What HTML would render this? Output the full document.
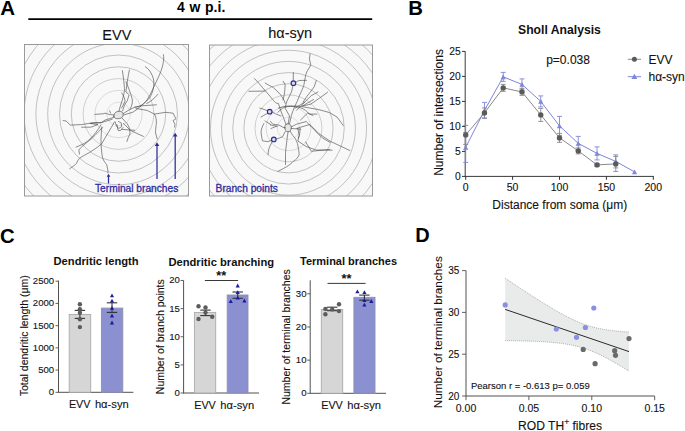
<!DOCTYPE html>
<html><head><meta charset="utf-8"><style>
html,body{margin:0;padding:0;background:#fff;}
body{width:685px;height:431px;overflow:hidden;}
svg{display:block;font-family:"Liberation Sans",sans-serif;}
</style></head><body>
<svg width="685" height="431" viewBox="0 0 685 431" font-family="Liberation Sans">
<rect width="685" height="431" fill="#fff"/>
<text x="0.30" y="15.00" font-size="20.5" font-weight="bold" text-anchor="start" fill="#000" >A</text>
<line x1="28.30" y1="19.20" x2="372.20" y2="19.20" stroke="#000" stroke-width="1.8" />
<text x="177.00" y="11.80" font-size="14" font-weight="bold" text-anchor="start" fill="#000" word-spacing="0.8">4 w p.i.</text>
<text x="102.30" y="39.90" font-size="14.5" font-weight="normal" text-anchor="start" fill="#111"  stroke="#111" stroke-width="0.1">EVV</text>
<text x="268.30" y="37.70" font-size="14.5" font-weight="normal" text-anchor="start" fill="#111"  stroke="#111" stroke-width="0.1">hα-syn</text>
<clipPath id="c1"><rect x="24.5" y="44.5" width="164" height="151.5"/></clipPath>
<rect x="24.5" y="44.5" width="164" height="151.5" fill="#f8f8f8"/>
<g clip-path="url(#c1)" fill="none" stroke="#9c9c9c" stroke-width="0.6">
<circle cx="118.5" cy="114" r="11.80" stroke="#cfcfcf"/>
<circle cx="118.5" cy="114" r="23.60" stroke="#c4c4c4"/>
<circle cx="118.5" cy="114" r="35.40" stroke="#b2b2b2"/>
<circle cx="118.5" cy="114" r="47.20" stroke="#9c9c9c"/>
<circle cx="118.5" cy="114" r="59.00" stroke="#9c9c9c"/>
<circle cx="118.5" cy="114" r="70.80" stroke="#9c9c9c"/>
<circle cx="118.5" cy="114" r="82.60" stroke="#9c9c9c"/>
<circle cx="118.5" cy="114" r="94.40" stroke="#9c9c9c"/>
<circle cx="118.5" cy="114" r="106.20" stroke="#9c9c9c"/>
<circle cx="118.5" cy="114" r="118.00" stroke="#9c9c9c"/>
<circle cx="118.5" cy="114" r="129.80" stroke="#9c9c9c"/>
<circle cx="118.5" cy="114" r="141.60" stroke="#9c9c9c"/>
<circle cx="118.5" cy="114" r="153.40" stroke="#9c9c9c"/>
<circle cx="118.5" cy="114" r="165.20" stroke="#9c9c9c"/>
<circle cx="118.5" cy="114" r="177.00" stroke="#9c9c9c"/>
</g>
<clipPath id="c2"><rect x="209.5" y="45" width="163" height="151"/></clipPath>
<rect x="209.5" y="45" width="163" height="151" fill="#f8f8f8"/>
<g clip-path="url(#c2)" fill="none" stroke="#9c9c9c" stroke-width="0.6">
<circle cx="288.5" cy="128.3" r="11.15" stroke="#cfcfcf"/>
<circle cx="288.5" cy="128.3" r="22.30" stroke="#c4c4c4"/>
<circle cx="288.5" cy="128.3" r="33.45" stroke="#b2b2b2"/>
<circle cx="288.5" cy="128.3" r="44.60" stroke="#9c9c9c"/>
<circle cx="288.5" cy="128.3" r="55.75" stroke="#9c9c9c"/>
<circle cx="288.5" cy="128.3" r="66.90" stroke="#9c9c9c"/>
<circle cx="288.5" cy="128.3" r="78.05" stroke="#9c9c9c"/>
<circle cx="288.5" cy="128.3" r="89.20" stroke="#9c9c9c"/>
<circle cx="288.5" cy="128.3" r="100.35" stroke="#9c9c9c"/>
<circle cx="288.5" cy="128.3" r="111.50" stroke="#9c9c9c"/>
<circle cx="288.5" cy="128.3" r="122.65" stroke="#9c9c9c"/>
<circle cx="288.5" cy="128.3" r="133.80" stroke="#9c9c9c"/>
<circle cx="288.5" cy="128.3" r="144.95" stroke="#9c9c9c"/>
<circle cx="288.5" cy="128.3" r="156.10" stroke="#9c9c9c"/>
<circle cx="288.5" cy="128.3" r="167.25" stroke="#9c9c9c"/>
</g>
<g fill="none" stroke="#484848" stroke-width="0.62" stroke-linecap="round" stroke-linejoin="round"><path d="M113.8,116.5 C113.5,113.5 116,111.3 119,111.2 C122,111 123.6,113 123.1,115.5 C122.6,118 120,118.9 117,118.7 C115,118.5 114,117.8 113.8,116.5 Z" fill="#e6e6e6"/>
<path d="M163.4,54.7 C164.8,60 162,70 158,78 C154,86 151,94 147,100 C144,104 140,107 135,107.1 L129.1,109.9 L123.1,113.6"/>
<path d="M145.3,66.6 C149,69 152.5,74 153.7,80 C154.5,88 152,94 149.5,98 C146,102 141,106 136,110 L132.9,112.2 L123.6,115"/>
<path d="M157.8,94.4 C154,99 150,102 146.7,103.5"/>
<path d="M122.4,70.6 C123.5,78 124.5,86 124.5,90 C124,94 123.6,95 123.6,95 L122.2,100.6 L120.3,106.1 L118.9,111.2"/>
<path d="M129.4,69.9 C128,76 127,84 125.9,91.5 C126.5,93 129,95 129.1,95 L127.3,100.6 L124.5,105.2 L122.6,110.8"/>
<path d="M125.9,81.7 C128,86 130,92 132,98 C133,102 132,106 130,109"/>
<path d="M121.7,92.9 C124,96 125,99 125,101.5 C124,104 122.5,106 121.5,108"/>
<path d="M109.6,110.8 L110.6,113.1"/>
<path d="M114.3,115 L109.2,114.5 L105,113.1 L103.9,113.7 L94.9,114.4"/>
<path d="M113.8,117.3 L105,120.1 L101.1,122.7 L93.8,122.6 L81.6,124.6 L70.3,125.1 L66.2,121.1 L63.2,120.5"/>
<path d="M112.3,119.2 L101.1,122.7 L90,123.4 L97.9,124.6 L90.8,127.2 L81.6,127.2"/>
<path d="M101,124.8 C98,130 94,135 90,139 C87,142 84,144 76,147.1"/>
<path d="M102.5,127.6 C97,133 93,138 88,141.5 C84,145 81,147 78.8,150 L79.5,154.1"/>
<path d="M114.4,122 C110,130 106,136 101.8,143.7 C97,148 93,150 89.2,152.7 C85,155 81,157 79.5,158.3 C78,160 77,162 76.7,163.2 C74,166 72,167 69.7,168.7"/>
<path d="M101.8,127 C101.5,132 101,136 101,140 C101,146 101.5,152 102.5,157.6 C103.5,161 105.5,163 106.6,164.5 C107.5,168 108,170 108,172.9"/>
<path d="M135,107.1 L141.6,105.8 L156.4,104.8"/>
<path d="M136,108.5 L147.1,110.4 L154.5,114.1 C156,117 156.5,120 156.4,123.4 C156,126 155.5,130 155.5,132.7 L157.3,139.2"/>
<path d="M154.5,114.1 L165.7,112.3 L173.1,113.2 L175.9,118.8 L173.1,120.6 L175,124.3 L174.6,127.1"/>
<path d="M122.2,118.2 L127.3,123.8 L129.6,128.4 L130,134 C128.5,137 127.5,139 126.9,141.5"/>
<path d="M123.4,123.4 L130.4,130.4 L143.4,136.4"/>
<path d="M115.2,121.9 L116.6,126.6 L118.9,128.4 L121.7,126.6 L121.2,122.9 L118.5,121.5"/>
<path d="M117,124.7 L118,130.3 L120.3,130.7 L123.1,127.5"/>
<path d="M121.7,129.4 L134.7,130.3"/>
<path d="M284.8,127.5 C284.5,125 286,123.8 288,123.8 C290.3,123.8 291.5,125.5 291.3,128 C291,130.5 289.8,131.8 288,131.8 C286,131.8 285,130 284.8,127.5 Z" fill="#e6e6e6"/>
<path d="M310.1,54 L309.4,58.9 L310.8,65.2 L307.3,70.8 L305.9,74.2 C305,78 304.5,82 303.8,85.4 C302.5,89 301.5,91 301,92.3 C299,96 298,100 296.8,102.1 C295,106 293,110 291.4,115.5 L289.5,123.8"/>
<path d="M293.3,72.5 L293.3,80.5 M293,85.8 C292.5,88 292,90 291.5,92 C290,95 288.5,98 287,101 C286,104 285.5,106 285.3,108.5 L289.5,115.9 L288.1,123.8"/>
<path d="M295.8,82.3 L298.9,80.5 L306.6,80.3"/>
<path d="M254.4,78.5 C258,82 262,87 265,90.4 C268,94 270,96 272,98.7 C274,101 276,104 278.4,103.4 L281.1,111.7 L283.9,118.7 L286,124.5"/>
<path d="M265.2,83.1 C268,85 271,86 273.4,87.6 C276,90 278,92 280.4,94.5 C282,97 284,99 285.3,103.4"/>
<path d="M248.8,91.3 L265,91.1"/>
<path d="M283.2,81.3 L285.2,84.8 C285,88 284.8,90 284.5,93.2 C284,96 283.5,98 283,100"/>
<path d="M316.3,80.5 L314.2,86.8 L310.1,92.3 C307,96 305,99 303.1,102.1"/>
<path d="M327.5,92.3 L319.8,97.9 L310.8,104.2 L302.4,106"/>
<path d="M278.4,108.2 C282,107 285,106 288.1,106.1 C292,106 295,106 297.8,106.1 C301,106.5 304,107 306.9,107.5 L319.1,109.7 L329.3,112.5 L337,117 L343.3,125.5"/>
<path d="M295.1,108.2 L304.8,102"/>
<path d="M259.8,108.1 L263,109 L267.3,110.7 M272.2,112 L277,114.5 L281,116 M267.7,113.2 L263.6,115.5 L261,117"/>
<path d="M284.8,128.2 L278.4,124.9 L272.8,124.2 L270.5,121.5"/>
<path d="M270.2,124.9 L277.1,126.3"/>
<path d="M285.3,131.5 L282.5,136.8 L277,138.9 L276.2,139.2"/>
<path d="M263.9,123.5 C262,127 261,130 261.1,132.5 C261.5,136 262,139 262.5,140.9 L268.1,141.6 L271.3,140.2"/>
<path d="M272.2,141.6 C270.5,145 269,148 268.8,149.2 C268.3,151 268,153 268.1,154.8"/>
<path d="M288.1,131.8 C287.5,135 287,139 286.7,142.3 C286.2,146 285.6,150 285.5,153.4 C285.5,157 285.5,161 285.5,164.5"/>
<path d="M290.2,131.2 C292,135 294,137 295.1,138.2 C296.5,141 297.5,143 297.8,145.1 C298.3,148 299,151 299.2,154.9 C297.5,158 296,160 294.2,160.5 C291,164 289,165 287,166.5 C284,168 281,170 277.8,171.5"/>
<path d="M291.2,127 L296.5,124.2 L306.2,121.5 C309,124 311,127 314.5,129.8 C317,133 320,136 322.9,138.2 L329.9,142.3"/>
<path d="M297.8,128.4 L299.2,135.4 L297.8,141 L306.2,146.5 L316,150 L332.1,150.2"/>
<path d="M296.9,128.3 L309.8,124.5 L319.1,133.8 L330.3,141.3 L349.8,150.5"/>
<path d="M300.6,120 L307.6,113.1 L313,115.5"/>
<path d="M302.4,106 L313.6,99.5"/>
<path d="M291.2,128.5 L300.7,129.1"/>
<path d="M277.8,112.3 C281,109 284,107 287.1,106.7 C292,106 296,106.5 300.1,107.6 C304,109 307,111 309.4,114.1 L316.8,114.1"/>
<path d="M296.4,110.4 L305.7,101.1 L311.3,95.6 L318,92"/>
<path d="M305.7,142 L311.3,151.3 L329.8,149.4"/>
<path d="M270.4,124.3 L265,121 M277,126 L271,128.5"/>
<path d="M300.1,129 C300,133 299.5,136 298.3,138"/>
</g>
<rect x="24.5" y="44.5" width="164" height="151.5" fill="none" stroke="#9a9a9a" stroke-width="1"/>
<rect x="209.5" y="45" width="163" height="151" fill="none" stroke="#9a9a9a" stroke-width="1"/>
<line x1="108.50" y1="183.50" x2="108.50" y2="176.30" stroke="#2c2c9e" stroke-width="1.25" />
<polygon points="106.70,176.80 110.30,176.80 108.50,173.80" fill="#2c2c9e"/>
<line x1="157.00" y1="179.00" x2="157.00" y2="145.40" stroke="#2c2c9e" stroke-width="1.25" />
<polygon points="154.70,145.90 159.30,145.90 157.00,142.30" fill="#2c2c9e"/>
<line x1="175.20" y1="179.00" x2="175.20" y2="135.90" stroke="#2c2c9e" stroke-width="1.25" />
<polygon points="172.90,136.40 177.50,136.40 175.20,132.80" fill="#2c2c9e"/>
<text x="95.00" y="191.50" font-size="10.2" font-weight="normal" text-anchor="start" fill="#2c2c9e" stroke="#2c2c9e" stroke-width="0.3">Terminal branches</text>
<text x="215.60" y="191.80" font-size="10.2" font-weight="normal" text-anchor="start" fill="#2c2c9e" stroke="#2c2c9e" stroke-width="0.3">Branch points</text>
<circle cx="293.40" cy="83.20" r="2.3" fill="#d8d8e8" stroke="#2c2c9e" stroke-width="1.15"/>
<circle cx="269.70" cy="111.70" r="2.3" fill="#d8d8e8" stroke="#2c2c9e" stroke-width="1.15"/>
<circle cx="273.80" cy="139.40" r="2.3" fill="#d8d8e8" stroke="#2c2c9e" stroke-width="1.15"/>
<text x="408.20" y="14.80" font-size="20.3" font-weight="bold" text-anchor="start" fill="#000" >B</text>
<text x="518.00" y="33.80" font-size="12.2" font-weight="bold" text-anchor="start" fill="#111" >Sholl Analysis</text>
<text x="546.20" y="63.75" font-size="12" font-weight="normal" text-anchor="start" fill="#111"  stroke="#111" stroke-width="0.1">p=0.038</text>
<line x1="627.80" y1="59.30" x2="641.00" y2="59.30" stroke="#8a8a8a" stroke-width="1" />
<circle cx="634.40" cy="59.30" r="2.5" fill="#5a5a5a" stroke="none" stroke-width="0"/>
<text x="648.50" y="63.70" font-size="12" font-weight="normal" text-anchor="start" fill="#111"  stroke="#111" stroke-width="0.1">EVV</text>
<line x1="627.80" y1="76.70" x2="641.00" y2="76.70" stroke="#7e86d6" stroke-width="1" />
<polygon points="631.50,79.01 637.30,79.01 634.40,73.79" fill="#7e86d6"/>
<text x="648.50" y="81.30" font-size="12" font-weight="normal" text-anchor="start" fill="#111"  stroke="#111" stroke-width="0.1">hα-syn</text>
<line x1="465.20" y1="51.30" x2="465.20" y2="177.00" stroke="#3a3a3a" stroke-width="1" />
<line x1="465.20" y1="176.40" x2="653.80" y2="176.40" stroke="#3a3a3a" stroke-width="1" />
<line x1="462.00" y1="176.40" x2="465.20" y2="176.40" stroke="#333" stroke-width="1" />
<text x="460.80" y="180.10" font-size="10.3" font-weight="normal" text-anchor="end" fill="#111"  stroke="#111" stroke-width="0.1">0</text>
<line x1="462.00" y1="151.40" x2="465.20" y2="151.40" stroke="#333" stroke-width="1" />
<text x="460.80" y="155.10" font-size="10.3" font-weight="normal" text-anchor="end" fill="#111"  stroke="#111" stroke-width="0.1">5</text>
<line x1="462.00" y1="126.40" x2="465.20" y2="126.40" stroke="#333" stroke-width="1" />
<text x="460.80" y="130.10" font-size="10.3" font-weight="normal" text-anchor="end" fill="#111"  stroke="#111" stroke-width="0.1">10</text>
<line x1="462.00" y1="101.40" x2="465.20" y2="101.40" stroke="#333" stroke-width="1" />
<text x="460.80" y="105.10" font-size="10.3" font-weight="normal" text-anchor="end" fill="#111"  stroke="#111" stroke-width="0.1">15</text>
<line x1="462.00" y1="76.40" x2="465.20" y2="76.40" stroke="#333" stroke-width="1" />
<text x="460.80" y="80.10" font-size="10.3" font-weight="normal" text-anchor="end" fill="#111"  stroke="#111" stroke-width="0.1">20</text>
<line x1="462.00" y1="51.40" x2="465.20" y2="51.40" stroke="#333" stroke-width="1" />
<text x="460.80" y="55.10" font-size="10.3" font-weight="normal" text-anchor="end" fill="#111"  stroke="#111" stroke-width="0.1">25</text>
<line x1="465.70" y1="176.40" x2="465.70" y2="179.80" stroke="#333" stroke-width="1" />
<text x="465.70" y="191.00" font-size="10.5" font-weight="normal" text-anchor="middle" fill="#111"  stroke="#111" stroke-width="0.1">0</text>
<line x1="512.60" y1="176.40" x2="512.60" y2="179.80" stroke="#333" stroke-width="1" />
<text x="512.60" y="191.00" font-size="10.5" font-weight="normal" text-anchor="middle" fill="#111"  stroke="#111" stroke-width="0.1">50</text>
<line x1="559.50" y1="176.40" x2="559.50" y2="179.80" stroke="#333" stroke-width="1" />
<text x="559.50" y="191.00" font-size="10.5" font-weight="normal" text-anchor="middle" fill="#111"  stroke="#111" stroke-width="0.1">100</text>
<line x1="606.40" y1="176.40" x2="606.40" y2="179.80" stroke="#333" stroke-width="1" />
<text x="606.40" y="191.00" font-size="10.5" font-weight="normal" text-anchor="middle" fill="#111"  stroke="#111" stroke-width="0.1">150</text>
<line x1="653.30" y1="176.40" x2="653.30" y2="179.80" stroke="#333" stroke-width="1" />
<text x="653.30" y="191.00" font-size="10.5" font-weight="normal" text-anchor="middle" fill="#111"  stroke="#111" stroke-width="0.1">200</text>
<text x="492.30" y="208.80" font-size="12" font-weight="normal" text-anchor="start" fill="#111"  stroke="#111" stroke-width="0.1">Distance from soma (μm)</text>
<text transform="translate(443.30,175.80) rotate(-90)" x="0" y="0" font-size="12" text-anchor="start" fill="#111" stroke="#111" stroke-width="0.1">Number of intersections</text>
<polyline points="465.70,147.40 484.46,110.40 503.22,76.90 521.98,84.40 540.74,101.40 559.50,125.90 578.26,143.40 597.02,153.40 615.78,161.40 634.54,171.90" fill="none" stroke="#7e86d6" stroke-width="1"/>
<line x1="465.70" y1="162.40" x2="465.70" y2="132.40" stroke="#7e86d6" stroke-width="0.9" />
<line x1="463.20" y1="132.40" x2="468.20" y2="132.40" stroke="#7e86d6" stroke-width="0.9" />
<line x1="463.20" y1="162.40" x2="468.20" y2="162.40" stroke="#7e86d6" stroke-width="0.9" />
<line x1="484.46" y1="118.40" x2="484.46" y2="102.40" stroke="#7e86d6" stroke-width="0.9" />
<line x1="481.96" y1="102.40" x2="486.96" y2="102.40" stroke="#7e86d6" stroke-width="0.9" />
<line x1="481.96" y1="118.40" x2="486.96" y2="118.40" stroke="#7e86d6" stroke-width="0.9" />
<line x1="503.22" y1="81.40" x2="503.22" y2="72.40" stroke="#7e86d6" stroke-width="0.9" />
<line x1="500.72" y1="72.40" x2="505.72" y2="72.40" stroke="#7e86d6" stroke-width="0.9" />
<line x1="500.72" y1="81.40" x2="505.72" y2="81.40" stroke="#7e86d6" stroke-width="0.9" />
<line x1="521.98" y1="89.90" x2="521.98" y2="78.90" stroke="#7e86d6" stroke-width="0.9" />
<line x1="519.48" y1="78.90" x2="524.48" y2="78.90" stroke="#7e86d6" stroke-width="0.9" />
<line x1="519.48" y1="89.90" x2="524.48" y2="89.90" stroke="#7e86d6" stroke-width="0.9" />
<line x1="540.74" y1="106.90" x2="540.74" y2="95.90" stroke="#7e86d6" stroke-width="0.9" />
<line x1="538.24" y1="95.90" x2="543.24" y2="95.90" stroke="#7e86d6" stroke-width="0.9" />
<line x1="538.24" y1="106.90" x2="543.24" y2="106.90" stroke="#7e86d6" stroke-width="0.9" />
<line x1="559.50" y1="135.40" x2="559.50" y2="116.40" stroke="#7e86d6" stroke-width="0.9" />
<line x1="557.00" y1="116.40" x2="562.00" y2="116.40" stroke="#7e86d6" stroke-width="0.9" />
<line x1="557.00" y1="135.40" x2="562.00" y2="135.40" stroke="#7e86d6" stroke-width="0.9" />
<line x1="578.26" y1="150.40" x2="578.26" y2="136.40" stroke="#7e86d6" stroke-width="0.9" />
<line x1="575.76" y1="136.40" x2="580.76" y2="136.40" stroke="#7e86d6" stroke-width="0.9" />
<line x1="575.76" y1="150.40" x2="580.76" y2="150.40" stroke="#7e86d6" stroke-width="0.9" />
<line x1="597.02" y1="159.90" x2="597.02" y2="146.90" stroke="#7e86d6" stroke-width="0.9" />
<line x1="594.52" y1="146.90" x2="599.52" y2="146.90" stroke="#7e86d6" stroke-width="0.9" />
<line x1="594.52" y1="159.90" x2="599.52" y2="159.90" stroke="#7e86d6" stroke-width="0.9" />
<line x1="615.78" y1="167.90" x2="615.78" y2="154.90" stroke="#7e86d6" stroke-width="0.9" />
<line x1="613.28" y1="154.90" x2="618.28" y2="154.90" stroke="#7e86d6" stroke-width="0.9" />
<line x1="613.28" y1="167.90" x2="618.28" y2="167.90" stroke="#7e86d6" stroke-width="0.9" />
<polygon points="463.10,149.74 468.30,149.74 465.70,145.06" fill="#7e86d6"/>
<polygon points="481.86,112.74 487.06,112.74 484.46,108.06" fill="#7e86d6"/>
<polygon points="500.62,79.24 505.82,79.24 503.22,74.56" fill="#7e86d6"/>
<polygon points="519.38,86.74 524.58,86.74 521.98,82.06" fill="#7e86d6"/>
<polygon points="538.14,103.74 543.34,103.74 540.74,99.06" fill="#7e86d6"/>
<polygon points="556.90,128.24 562.10,128.24 559.50,123.56" fill="#7e86d6"/>
<polygon points="575.66,145.74 580.86,145.74 578.26,141.06" fill="#7e86d6"/>
<polygon points="594.42,155.74 599.62,155.74 597.02,151.06" fill="#7e86d6"/>
<polygon points="613.18,163.74 618.38,163.74 615.78,159.06" fill="#7e86d6"/>
<polygon points="631.94,174.24 637.14,174.24 634.54,169.56" fill="#7e86d6"/>
<polyline points="465.70,134.90 484.46,112.90 503.22,87.90 521.98,91.90 540.74,114.90 559.50,137.90 578.26,150.90 597.02,164.90 615.78,163.90" fill="none" stroke="#8a8a8a" stroke-width="1"/>
<line x1="465.70" y1="144.40" x2="465.70" y2="125.40" stroke="#8a8a8a" stroke-width="0.9" />
<line x1="463.20" y1="125.40" x2="468.20" y2="125.40" stroke="#8a8a8a" stroke-width="0.9" />
<line x1="463.20" y1="144.40" x2="468.20" y2="144.40" stroke="#8a8a8a" stroke-width="0.9" />
<line x1="484.46" y1="117.90" x2="484.46" y2="107.90" stroke="#8a8a8a" stroke-width="0.9" />
<line x1="481.96" y1="107.90" x2="486.96" y2="107.90" stroke="#8a8a8a" stroke-width="0.9" />
<line x1="481.96" y1="117.90" x2="486.96" y2="117.90" stroke="#8a8a8a" stroke-width="0.9" />
<line x1="503.22" y1="91.40" x2="503.22" y2="84.40" stroke="#8a8a8a" stroke-width="0.9" />
<line x1="500.72" y1="84.40" x2="505.72" y2="84.40" stroke="#8a8a8a" stroke-width="0.9" />
<line x1="500.72" y1="91.40" x2="505.72" y2="91.40" stroke="#8a8a8a" stroke-width="0.9" />
<line x1="521.98" y1="95.40" x2="521.98" y2="88.40" stroke="#8a8a8a" stroke-width="0.9" />
<line x1="519.48" y1="88.40" x2="524.48" y2="88.40" stroke="#8a8a8a" stroke-width="0.9" />
<line x1="519.48" y1="95.40" x2="524.48" y2="95.40" stroke="#8a8a8a" stroke-width="0.9" />
<line x1="540.74" y1="121.40" x2="540.74" y2="108.40" stroke="#8a8a8a" stroke-width="0.9" />
<line x1="538.24" y1="108.40" x2="543.24" y2="108.40" stroke="#8a8a8a" stroke-width="0.9" />
<line x1="538.24" y1="121.40" x2="543.24" y2="121.40" stroke="#8a8a8a" stroke-width="0.9" />
<line x1="559.50" y1="142.40" x2="559.50" y2="133.40" stroke="#8a8a8a" stroke-width="0.9" />
<line x1="557.00" y1="133.40" x2="562.00" y2="133.40" stroke="#8a8a8a" stroke-width="0.9" />
<line x1="557.00" y1="142.40" x2="562.00" y2="142.40" stroke="#8a8a8a" stroke-width="0.9" />
<line x1="578.26" y1="153.90" x2="578.26" y2="147.90" stroke="#8a8a8a" stroke-width="0.9" />
<line x1="575.76" y1="147.90" x2="580.76" y2="147.90" stroke="#8a8a8a" stroke-width="0.9" />
<line x1="575.76" y1="153.90" x2="580.76" y2="153.90" stroke="#8a8a8a" stroke-width="0.9" />
<line x1="597.02" y1="166.40" x2="597.02" y2="163.40" stroke="#8a8a8a" stroke-width="0.9" />
<line x1="594.52" y1="163.40" x2="599.52" y2="163.40" stroke="#8a8a8a" stroke-width="0.9" />
<line x1="594.52" y1="166.40" x2="599.52" y2="166.40" stroke="#8a8a8a" stroke-width="0.9" />
<line x1="615.78" y1="171.40" x2="615.78" y2="156.40" stroke="#8a8a8a" stroke-width="0.9" />
<line x1="613.28" y1="156.40" x2="618.28" y2="156.40" stroke="#8a8a8a" stroke-width="0.9" />
<line x1="613.28" y1="171.40" x2="618.28" y2="171.40" stroke="#8a8a8a" stroke-width="0.9" />
<circle cx="465.70" cy="134.90" r="2.7" fill="#5a5a5a" stroke="none" stroke-width="0"/>
<circle cx="484.46" cy="112.90" r="2.7" fill="#5a5a5a" stroke="none" stroke-width="0"/>
<circle cx="503.22" cy="87.90" r="2.7" fill="#5a5a5a" stroke="none" stroke-width="0"/>
<circle cx="521.98" cy="91.90" r="2.7" fill="#5a5a5a" stroke="none" stroke-width="0"/>
<circle cx="540.74" cy="114.90" r="2.7" fill="#5a5a5a" stroke="none" stroke-width="0"/>
<circle cx="559.50" cy="137.90" r="2.7" fill="#5a5a5a" stroke="none" stroke-width="0"/>
<circle cx="578.26" cy="150.90" r="2.7" fill="#5a5a5a" stroke="none" stroke-width="0"/>
<circle cx="597.02" cy="164.90" r="2.7" fill="#5a5a5a" stroke="none" stroke-width="0"/>
<circle cx="615.78" cy="163.90" r="2.7" fill="#5a5a5a" stroke="none" stroke-width="0"/>
<text x="0.10" y="242.60" font-size="20.3" font-weight="bold" text-anchor="start" fill="#000" >C</text>
<text x="53.50" y="265.20" font-size="11.2" font-weight="bold" text-anchor="start" fill="#111" >Dendritic length</text>
<line x1="58.50" y1="280.60" x2="58.50" y2="392.80" stroke="#505050" stroke-width="1" />
<line x1="58.50" y1="392.30" x2="133.40" y2="392.30" stroke="#505050" stroke-width="1" />
<line x1="55.50" y1="392.30" x2="58.50" y2="392.30" stroke="#505050" stroke-width="0.9" />
<text x="54.20" y="395.20" font-size="9.6" font-weight="normal" text-anchor="end" fill="#111"  stroke="#111" stroke-width="0.1">0</text>
<line x1="55.50" y1="370.08" x2="58.50" y2="370.08" stroke="#505050" stroke-width="0.9" />
<text x="54.20" y="372.98" font-size="9.6" font-weight="normal" text-anchor="end" fill="#111"  stroke="#111" stroke-width="0.1">500</text>
<line x1="55.50" y1="347.86" x2="58.50" y2="347.86" stroke="#505050" stroke-width="0.9" />
<text x="54.20" y="350.76" font-size="9.6" font-weight="normal" text-anchor="end" fill="#111"  stroke="#111" stroke-width="0.1">1000</text>
<line x1="55.50" y1="325.64" x2="58.50" y2="325.64" stroke="#505050" stroke-width="0.9" />
<text x="54.20" y="328.54" font-size="9.6" font-weight="normal" text-anchor="end" fill="#111"  stroke="#111" stroke-width="0.1">1500</text>
<line x1="55.50" y1="303.42" x2="58.50" y2="303.42" stroke="#505050" stroke-width="0.9" />
<text x="54.20" y="306.32" font-size="9.6" font-weight="normal" text-anchor="end" fill="#111"  stroke="#111" stroke-width="0.1">2000</text>
<line x1="55.50" y1="281.20" x2="58.50" y2="281.20" stroke="#505050" stroke-width="0.9" />
<text x="54.20" y="284.10" font-size="9.6" font-weight="normal" text-anchor="end" fill="#111"  stroke="#111" stroke-width="0.1">2500</text>
<rect x="69.20" y="314.50" width="21.50" height="77.80" fill="#d6d6d6" stroke="#a8aaa8" stroke-width="0.9"/>
<rect x="101.40" y="308.10" width="21.40" height="84.20" fill="#8a90d0" stroke="#8f8fb0" stroke-width="0.9"/>
<line x1="79.90" y1="310.40" x2="79.90" y2="318.40" stroke="#333" stroke-width="1.1" />
<line x1="74.70" y1="310.40" x2="85.10" y2="310.40" stroke="#333" stroke-width="1.1" />
<line x1="74.70" y1="318.40" x2="85.10" y2="318.40" stroke="#333" stroke-width="1.1" />
<line x1="112.00" y1="302.80" x2="112.00" y2="312.40" stroke="#333" stroke-width="1.1" />
<line x1="106.80" y1="302.80" x2="117.20" y2="302.80" stroke="#333" stroke-width="1.1" />
<line x1="106.80" y1="312.40" x2="117.20" y2="312.40" stroke="#333" stroke-width="1.1" />
<circle cx="79.90" cy="304.20" r="2.2" fill="#5c5c5c" stroke="none" stroke-width="0"/>
<circle cx="79.90" cy="309.30" r="2.2" fill="#5c5c5c" stroke="none" stroke-width="0"/>
<circle cx="79.90" cy="312.80" r="2.2" fill="#5c5c5c" stroke="none" stroke-width="0"/>
<circle cx="79.90" cy="319.20" r="2.2" fill="#5c5c5c" stroke="none" stroke-width="0"/>
<circle cx="79.90" cy="327.10" r="2.2" fill="#5c5c5c" stroke="none" stroke-width="0"/>
<polygon points="109.90,297.19 114.10,297.19 112.00,293.41" fill="#1c1c9c"/>
<polygon points="109.90,302.59 114.10,302.59 112.00,298.81" fill="#1c1c9c"/>
<polygon points="109.90,309.69 114.10,309.69 112.00,305.91" fill="#1c1c9c"/>
<polygon points="109.90,317.39 114.10,317.39 112.00,313.61" fill="#1c1c9c"/>
<polygon points="109.90,324.39 114.10,324.39 112.00,320.61" fill="#1c1c9c"/>
<text x="68.90" y="408.10" font-size="10.8" font-weight="normal" text-anchor="start" fill="#111"  stroke="#111" stroke-width="0.1">EVV</text>
<text x="94.90" y="408.10" font-size="11.2" font-weight="normal" text-anchor="start" fill="#111"  stroke="#111" stroke-width="0.1">hα-syn</text>
<text transform="translate(28.40,396.30) rotate(-90)" x="0" y="0" font-size="10.5" text-anchor="start" fill="#111" stroke="#111" stroke-width="0.1">Total dendritic length (μm)</text>
<text x="168.40" y="265.90" font-size="11.2" font-weight="bold" text-anchor="start" fill="#111" >Dendritic branching</text>
<line x1="183.60" y1="280.50" x2="183.60" y2="393.50" stroke="#505050" stroke-width="1" />
<line x1="183.60" y1="393.00" x2="259.00" y2="393.00" stroke="#505050" stroke-width="1" />
<line x1="180.60" y1="393.00" x2="183.60" y2="393.00" stroke="#505050" stroke-width="0.9" />
<text x="179.80" y="395.90" font-size="9.6" font-weight="normal" text-anchor="end" fill="#111"  stroke="#111" stroke-width="0.1">0</text>
<line x1="180.60" y1="364.88" x2="183.60" y2="364.88" stroke="#505050" stroke-width="0.9" />
<text x="179.80" y="367.77" font-size="9.6" font-weight="normal" text-anchor="end" fill="#111"  stroke="#111" stroke-width="0.1">5</text>
<line x1="180.60" y1="336.75" x2="183.60" y2="336.75" stroke="#505050" stroke-width="0.9" />
<text x="179.80" y="339.65" font-size="9.6" font-weight="normal" text-anchor="end" fill="#111"  stroke="#111" stroke-width="0.1">10</text>
<line x1="180.60" y1="308.62" x2="183.60" y2="308.62" stroke="#505050" stroke-width="0.9" />
<text x="179.80" y="311.52" font-size="9.6" font-weight="normal" text-anchor="end" fill="#111"  stroke="#111" stroke-width="0.1">15</text>
<line x1="180.60" y1="280.50" x2="183.60" y2="280.50" stroke="#505050" stroke-width="0.9" />
<text x="179.80" y="283.40" font-size="9.6" font-weight="normal" text-anchor="end" fill="#111"  stroke="#111" stroke-width="0.1">20</text>
<rect x="194.40" y="312.40" width="21.30" height="80.60" fill="#d6d6d6" stroke="#a8aaa8" stroke-width="0.9"/>
<rect x="227.20" y="295.00" width="20.80" height="98.00" fill="#8a90d0" stroke="#8f8fb0" stroke-width="0.9"/>
<line x1="205.50" y1="310.10" x2="205.50" y2="315.60" stroke="#333" stroke-width="1.1" />
<line x1="200.30" y1="310.10" x2="210.70" y2="310.10" stroke="#333" stroke-width="1.1" />
<line x1="200.30" y1="315.60" x2="210.70" y2="315.60" stroke="#333" stroke-width="1.1" />
<line x1="237.70" y1="292.00" x2="237.70" y2="298.30" stroke="#333" stroke-width="1.1" />
<line x1="232.50" y1="292.00" x2="242.90" y2="292.00" stroke="#333" stroke-width="1.1" />
<line x1="232.50" y1="298.30" x2="242.90" y2="298.30" stroke="#333" stroke-width="1.1" />
<circle cx="198.50" cy="306.30" r="2.2" fill="#5c5c5c" stroke="none" stroke-width="0"/>
<circle cx="205.50" cy="307.50" r="2.2" fill="#5c5c5c" stroke="none" stroke-width="0"/>
<circle cx="205.50" cy="312.60" r="2.2" fill="#5c5c5c" stroke="none" stroke-width="0"/>
<circle cx="198.50" cy="319.00" r="2.2" fill="#5c5c5c" stroke="none" stroke-width="0"/>
<circle cx="212.20" cy="316.80" r="2.2" fill="#5c5c5c" stroke="none" stroke-width="0"/>
<polygon points="235.60,287.39 239.80,287.39 237.70,283.61" fill="#1c1c9c"/>
<polygon points="235.60,294.09 239.80,294.09 237.70,290.31" fill="#1c1c9c"/>
<polygon points="235.60,299.59 239.80,299.59 237.70,295.81" fill="#1c1c9c"/>
<polygon points="228.70,303.09 232.90,303.09 230.80,299.31" fill="#1c1c9c"/>
<polygon points="242.30,302.39 246.50,302.39 244.40,298.61" fill="#1c1c9c"/>
<line x1="204.90" y1="280.50" x2="238.10" y2="280.50" stroke="#222" stroke-width="0.9" />
<text x="221.30" y="279.90" font-size="12.8" font-weight="bold" text-anchor="middle" fill="#111" >**</text>
<text x="194.20" y="409.30" font-size="10.8" font-weight="normal" text-anchor="start" fill="#111"  stroke="#111" stroke-width="0.1">EVV</text>
<text x="220.30" y="409.30" font-size="11.2" font-weight="normal" text-anchor="start" fill="#111"  stroke="#111" stroke-width="0.1">hα-syn</text>
<text transform="translate(163.80,394.20) rotate(-90)" x="0" y="0" font-size="10.5" text-anchor="start" fill="#111" stroke="#111" stroke-width="0.1">Number of branch points</text>
<text x="300.00" y="265.40" font-size="11" font-weight="bold" text-anchor="start" fill="#111" >Terminal branches</text>
<line x1="310.20" y1="280.30" x2="310.20" y2="393.80" stroke="#505050" stroke-width="1" />
<line x1="310.20" y1="393.30" x2="386.10" y2="393.30" stroke="#505050" stroke-width="1" />
<line x1="307.20" y1="393.30" x2="310.20" y2="393.30" stroke="#505050" stroke-width="0.9" />
<text x="306.50" y="396.20" font-size="9.6" font-weight="normal" text-anchor="end" fill="#111"  stroke="#111" stroke-width="0.1">0</text>
<line x1="307.20" y1="360.13" x2="310.20" y2="360.13" stroke="#505050" stroke-width="0.9" />
<text x="306.50" y="363.03" font-size="9.6" font-weight="normal" text-anchor="end" fill="#111"  stroke="#111" stroke-width="0.1">10</text>
<line x1="307.20" y1="326.96" x2="310.20" y2="326.96" stroke="#505050" stroke-width="0.9" />
<text x="306.50" y="329.86" font-size="9.6" font-weight="normal" text-anchor="end" fill="#111"  stroke="#111" stroke-width="0.1">20</text>
<line x1="307.20" y1="293.79" x2="310.20" y2="293.79" stroke="#505050" stroke-width="0.9" />
<text x="306.50" y="296.69" font-size="9.6" font-weight="normal" text-anchor="end" fill="#111"  stroke="#111" stroke-width="0.1">30</text>
<rect x="321.30" y="309.50" width="21.40" height="83.80" fill="#d6d6d6" stroke="#a8aaa8" stroke-width="0.9"/>
<rect x="353.90" y="297.30" width="21.10" height="96.00" fill="#8a90d0" stroke="#8f8fb0" stroke-width="0.9"/>
<line x1="332.20" y1="307.20" x2="332.20" y2="310.70" stroke="#333" stroke-width="1.1" />
<line x1="327.00" y1="307.20" x2="337.40" y2="307.20" stroke="#333" stroke-width="1.1" />
<line x1="327.00" y1="310.70" x2="337.40" y2="310.70" stroke="#333" stroke-width="1.1" />
<line x1="364.40" y1="295.10" x2="364.40" y2="300.20" stroke="#333" stroke-width="1.1" />
<line x1="359.20" y1="295.10" x2="369.60" y2="295.10" stroke="#333" stroke-width="1.1" />
<line x1="359.20" y1="300.20" x2="369.60" y2="300.20" stroke="#333" stroke-width="1.1" />
<circle cx="325.40" cy="308.90" r="2.2" fill="#5c5c5c" stroke="none" stroke-width="0"/>
<circle cx="332.20" cy="309.40" r="2.2" fill="#5c5c5c" stroke="none" stroke-width="0"/>
<circle cx="339.00" cy="304.20" r="2.2" fill="#5c5c5c" stroke="none" stroke-width="0"/>
<circle cx="339.00" cy="311.10" r="2.2" fill="#5c5c5c" stroke="none" stroke-width="0"/>
<circle cx="325.40" cy="314.20" r="2.2" fill="#5c5c5c" stroke="none" stroke-width="0"/>
<polygon points="355.30,293.29 359.50,293.29 357.40,289.51" fill="#1c1c9c"/>
<polygon points="362.30,293.99 366.50,293.99 364.40,290.21" fill="#1c1c9c"/>
<polygon points="362.30,302.09 366.50,302.09 364.40,298.31" fill="#1c1c9c"/>
<polygon points="369.20,302.89 373.40,302.89 371.30,299.11" fill="#1c1c9c"/>
<polygon points="362.30,306.49 366.50,306.49 364.40,302.71" fill="#1c1c9c"/>
<line x1="327.50" y1="283.40" x2="365.60" y2="283.40" stroke="#222" stroke-width="0.9" />
<text x="346.60" y="282.90" font-size="12.8" font-weight="bold" text-anchor="middle" fill="#111" >**</text>
<text x="321.20" y="409.10" font-size="10.8" font-weight="normal" text-anchor="start" fill="#111"  stroke="#111" stroke-width="0.1">EVV</text>
<text x="347.20" y="409.10" font-size="11.2" font-weight="normal" text-anchor="start" fill="#111"  stroke="#111" stroke-width="0.1">hα-syn</text>
<text transform="translate(289.60,404.60) rotate(-90)" x="0" y="0" font-size="10.5" text-anchor="start" fill="#111" stroke="#111" stroke-width="0.1">Number of terminal branches</text>
<text x="415.20" y="242.40" font-size="20" font-weight="bold" text-anchor="start" fill="#000" >D</text>
<polygon points="505.20,278.20 508.30,280.27 511.39,282.34 514.49,284.40 517.58,286.45 520.67,288.49 523.77,290.53 526.87,292.55 529.96,294.56 533.05,296.55 536.15,298.53 539.25,300.50 542.34,302.44 545.43,304.36 548.53,306.25 551.62,308.11 554.72,309.94 557.82,311.72 560.91,313.46 564.00,315.15 567.10,316.77 570.19,318.33 573.29,319.81 576.38,321.21 579.48,322.52 582.58,323.73 585.67,324.84 588.76,325.85 591.86,326.76 594.96,327.57 598.05,328.29 601.14,328.92 604.24,329.48 607.34,329.97 610.43,330.40 613.52,330.78 616.62,331.11 619.72,331.39 622.81,331.65 625.90,331.87 629.00,332.06 629.00,371.17 625.90,369.25 622.81,367.36 619.72,365.50 616.62,363.68 613.52,361.90 610.43,360.17 607.34,358.48 604.24,356.86 601.14,355.31 598.05,353.84 594.96,352.44 591.86,351.14 588.76,349.94 585.67,348.84 582.58,347.84 579.48,346.94 576.38,346.14 573.29,345.42 570.19,344.80 567.10,344.24 564.00,343.76 560.91,343.33 557.82,342.96 554.72,342.64 551.62,342.35 548.53,342.10 545.43,341.88 542.34,341.69 539.25,341.52 536.15,341.37 533.05,341.24 529.96,341.13 526.87,341.03 523.77,340.94 520.67,340.86 517.58,340.79 514.49,340.73 511.39,340.68 508.30,340.64 505.20,340.60" fill="#e9eaea" stroke="none"/>
<polyline points="505.20,278.20 508.30,280.27 511.39,282.34 514.49,284.40 517.58,286.45 520.67,288.49 523.77,290.53 526.87,292.55 529.96,294.56 533.05,296.55 536.15,298.53 539.25,300.50 542.34,302.44 545.43,304.36 548.53,306.25 551.62,308.11 554.72,309.94 557.82,311.72 560.91,313.46 564.00,315.15 567.10,316.77 570.19,318.33 573.29,319.81 576.38,321.21 579.48,322.52 582.58,323.73 585.67,324.84 588.76,325.85 591.86,326.76 594.96,327.57 598.05,328.29 601.14,328.92 604.24,329.48 607.34,329.97 610.43,330.40 613.52,330.78 616.62,331.11 619.72,331.39 622.81,331.65 625.90,331.87 629.00,332.06" fill="none" stroke="#9a9a9a" stroke-width="0.8" stroke-dasharray="1,1"/>
<polyline points="505.20,340.60 508.30,340.64 511.39,340.68 514.49,340.73 517.58,340.79 520.67,340.86 523.77,340.94 526.87,341.03 529.96,341.13 533.05,341.24 536.15,341.37 539.25,341.52 542.34,341.69 545.43,341.88 548.53,342.10 551.62,342.35 554.72,342.64 557.82,342.96 560.91,343.33 564.00,343.76 567.10,344.24 570.19,344.80 573.29,345.42 576.38,346.14 579.48,346.94 582.58,347.84 585.67,348.84 588.76,349.94 591.86,351.14 594.96,352.44 598.05,353.84 601.14,355.31 604.24,356.86 607.34,358.48 610.43,360.17 613.52,361.90 616.62,363.68 619.72,365.50 622.81,367.36 625.90,369.25 629.00,371.17" fill="none" stroke="#9a9a9a" stroke-width="0.8" stroke-dasharray="1,1"/>
<line x1="505.20" y1="309.40" x2="629.00" y2="351.60" stroke="#2a2a2a" stroke-width="1.0" />
<line x1="466.00" y1="270.60" x2="466.00" y2="396.50" stroke="#505050" stroke-width="1" />
<line x1="466.00" y1="396.00" x2="654.70" y2="396.00" stroke="#505050" stroke-width="1" />
<line x1="462.00" y1="396.00" x2="466.00" y2="396.00" stroke="#505050" stroke-width="0.9" />
<text x="459.30" y="399.50" font-size="10" font-weight="normal" text-anchor="end" fill="#111"  stroke="#111" stroke-width="0.1">20</text>
<line x1="462.00" y1="354.20" x2="466.00" y2="354.20" stroke="#505050" stroke-width="0.9" />
<text x="459.30" y="357.70" font-size="10" font-weight="normal" text-anchor="end" fill="#111"  stroke="#111" stroke-width="0.1">25</text>
<line x1="462.00" y1="312.40" x2="466.00" y2="312.40" stroke="#505050" stroke-width="0.9" />
<text x="459.30" y="315.90" font-size="10" font-weight="normal" text-anchor="end" fill="#111"  stroke="#111" stroke-width="0.1">30</text>
<line x1="462.00" y1="270.60" x2="466.00" y2="270.60" stroke="#505050" stroke-width="0.9" />
<text x="459.30" y="274.10" font-size="10" font-weight="normal" text-anchor="end" fill="#111"  stroke="#111" stroke-width="0.1">35</text>
<line x1="466.00" y1="396.00" x2="466.00" y2="400.20" stroke="#505050" stroke-width="0.9" />
<text x="466.00" y="411.50" font-size="10.5" font-weight="normal" text-anchor="middle" fill="#111"  stroke="#111" stroke-width="0.1">0.00</text>
<line x1="528.90" y1="396.00" x2="528.90" y2="400.20" stroke="#505050" stroke-width="0.9" />
<text x="528.90" y="411.50" font-size="10.5" font-weight="normal" text-anchor="middle" fill="#111"  stroke="#111" stroke-width="0.1">0.05</text>
<line x1="591.80" y1="396.00" x2="591.80" y2="400.20" stroke="#505050" stroke-width="0.9" />
<text x="591.80" y="411.50" font-size="10.5" font-weight="normal" text-anchor="middle" fill="#111"  stroke="#111" stroke-width="0.1">0.10</text>
<line x1="654.70" y1="396.00" x2="654.70" y2="400.20" stroke="#505050" stroke-width="0.9" />
<text x="654.70" y="411.50" font-size="10.5" font-weight="normal" text-anchor="middle" fill="#111"  stroke="#111" stroke-width="0.1">0.15</text>
<text x="518.00" y="430.10" font-size="12.1" font-weight="normal" text-anchor="start" fill="#111"  stroke="#111" stroke-width="0.1">ROD TH<tspan font-size="8.5" dy="-5">+</tspan><tspan dy="5"> fibres</tspan></text>
<text transform="translate(441.80,408.30) rotate(-90)" x="0" y="0" font-size="11.8" text-anchor="start" fill="#111" stroke="#111" stroke-width="0.1">Number of terminal branches</text>
<text x="470.90" y="389.30" font-size="9.5" font-weight="normal" text-anchor="start" fill="#111"  stroke="#111" stroke-width="0.1">Pearson r = -0.613 p= 0.059</text>
<circle cx="505.20" cy="304.90" r="2.6" fill="#8a90e0" stroke="none" stroke-width="0"/>
<circle cx="556.30" cy="329.00" r="2.6" fill="#8a90e0" stroke="none" stroke-width="0"/>
<circle cx="576.50" cy="337.30" r="2.6" fill="#8a90e0" stroke="none" stroke-width="0"/>
<circle cx="585.40" cy="327.50" r="2.6" fill="#8a90e0" stroke="none" stroke-width="0"/>
<circle cx="593.80" cy="308.00" r="2.6" fill="#8a90e0" stroke="none" stroke-width="0"/>
<circle cx="583.20" cy="349.40" r="2.6" fill="#6a6a6a" stroke="none" stroke-width="0"/>
<circle cx="595.10" cy="363.70" r="2.6" fill="#6a6a6a" stroke="none" stroke-width="0"/>
<circle cx="614.70" cy="350.70" r="2.6" fill="#6a6a6a" stroke="none" stroke-width="0"/>
<circle cx="615.50" cy="355.30" r="2.6" fill="#6a6a6a" stroke="none" stroke-width="0"/>
<circle cx="629.00" cy="338.60" r="2.6" fill="#6a6a6a" stroke="none" stroke-width="0"/>
</svg>
</body></html>
